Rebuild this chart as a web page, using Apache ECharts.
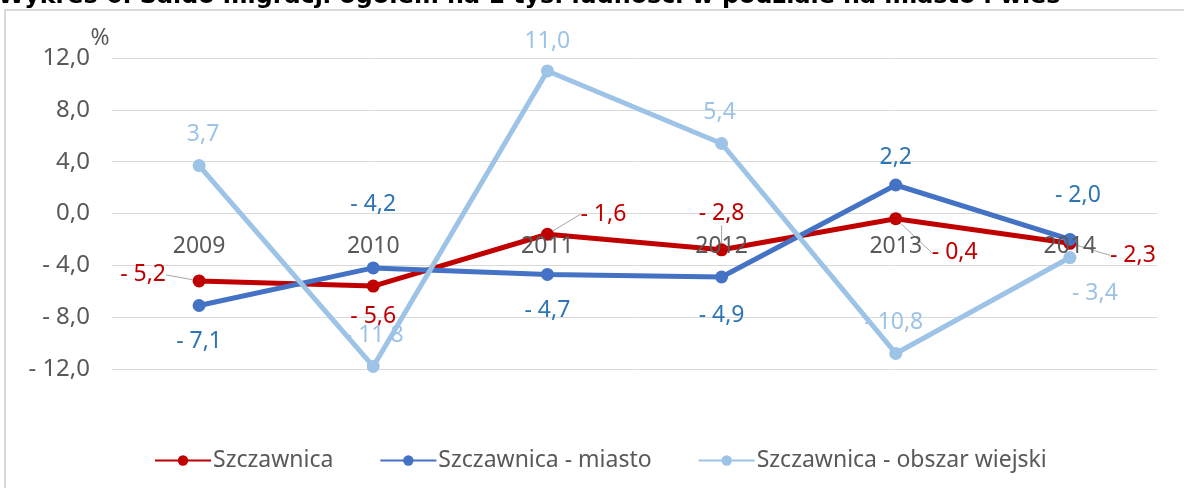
<!DOCTYPE html>
<html lang="pl" style="height: 100%">

<head>
  <meta charset="utf-8">
</head>

<body style="height: 100%; margin: 0; background: #fff">
  <div id="container" style="width: 1184px; height: 488px"></div>

  <script type="text/javascript" src="https://cdn.jsdelivr.net/npm/echarts@6/dist/echarts.min.js"></script>

  <script type="text/javascript">
    var dom = document.getElementById('container');
    var myChart = echarts.init(dom, null, { renderer: 'canvas' });

    // dane
    var years = ['2009', '2010', '2011', '2012', '2013', '2014'];
    var szczawnica = [-5.2, -5.6, -1.6, -2.8, -0.4, -2.3];
    var miasto = [-7.1, -4.2, -4.7, -4.9, 2.2, -2.0];
    var wiejski = [3.7, -11.8, 11.0, 5.4, -10.8, -3.4];
    var yMin = -12, yMax = 12, yStep = 4;

    var FONT = 'Noto Sans';
    var GREY = '#595959';

    // przesunięcia etykiet względem punktu (jak w Excelu)
    var labelShift = [
      [[-56, -6], [0, 30], [56, -20], [0, -36], [59, 34], [63, 12]],
      [[0, 36], [0, -63], [0, 36], [0, 38], [0, -28], [8, -44]],
      [[4, -31], [1, -31], [0, -30], [-2, -31], [-2, -31], [25, 36]]
    ];

    function fmt(v) {
      return (v < 0 ? '- ' : '') + Math.abs(v).toFixed(1).replace('.', ',');
    }

    function makeSeries(name, values, color, labelColor, withLeader) {
      return {
        name: name,
        type: 'line',
        data: values.map(function (v, i) {
          var item = { value: v };
          if (withLeader && i === 1) item.labelLine = { show: false };
          return item;
        }),
        symbol: 'circle',
        symbolSize: 13,
        lineStyle: { color: color, width: 5 },
        itemStyle: { color: color },
        label: {
          show: true,
          position: 'inside',
          formatter: function (p) { return fmt(p.value); },
          color: labelColor,
          fontFamily: FONT,
          fontSize: 23
        },
        labelLine: {
          show: withLeader,
          lineStyle: { color: '#a6a6a6', width: 1 }
        },
        labelLayout: function (p) {
          var s = labelShift[p.seriesIndex][p.dataIndex];
          return { dx: s[0], dy: s[1] };
        },
        emphasis: { disabled: true },
        animation: false
      };
    }

    var option = {
      backgroundColor: '#fff',
      textStyle: { fontFamily: FONT },
      graphic: [
        {
          type: 'rect',
          shape: { x: 5, y: 10, width: 1200, height: 500 },
          style: { fill: 'none', stroke: '#d9d9d9', lineWidth: 2 },
          silent: true
        },
        {
          type: 'text',
          x: -2,
          y: -3,
          style: {
            text: 'Wykres 6. Saldo migracji ogółem na 1 tys. ludności w podziale na miasto i wieś',
            font: 'bold 23.8px "DejaVu Sans"',
            fill: '#000',
            verticalAlign: 'middle'
          },
          silent: true
        },
        {
          type: 'text',
          x: 100,
          y: 38,
          style: {
            text: '%',
            font: '23px "Noto Sans"',
            fill: GREY,
            align: 'center',
            verticalAlign: 'middle'
          },
          silent: true
        }
      ],
      grid: { left: 112, right: 27, top: 58, bottom: 119 },
      legend: {
        left: 149,
        top: 444,
        itemWidth: 56,
        itemHeight: 13,
        itemGap: 46,
        textStyle: { color: GREY, fontFamily: FONT, fontSize: 23, padding: [0, 0, 0, -3] },
        data: ['Szczawnica', 'Szczawnica - miasto', 'Szczawnica - obszar wiejski']
      },
      xAxis: {
        type: 'category',
        data: years,
        z: 5,
        axisLine: { show: false },
        axisTick: { show: false },
        // etykiety lat przy linii zera, jak w oryginale
        axisLabel: { color: GREY, fontFamily: FONT, fontSize: 23, margin: -134 }
      },
      yAxis: {
        type: 'value',
        min: yMin,
        max: yMax,
        interval: yStep,
        axisLine: { show: false },
        axisTick: { show: false },
        splitLine: { lineStyle: { color: '#d9d9d9', width: 1 } },
        axisLabel: {
          color: GREY,
          fontFamily: FONT,
          fontSize: 24,
          margin: 22,
          formatter: fmt
        }
      },
      series: [
        makeSeries('Szczawnica', szczawnica, '#C00000', '#C00000', true),
        makeSeries('Szczawnica - miasto', miasto, '#4472C4', '#2E75B6', false),
        makeSeries('Szczawnica - obszar wiejski', wiejski, '#9DC3E6', '#9DC3E6', false)
      ]
    };

    myChart.setOption(option);
    window.addEventListener('resize', myChart.resize);
  </script>
</body>

</html>
